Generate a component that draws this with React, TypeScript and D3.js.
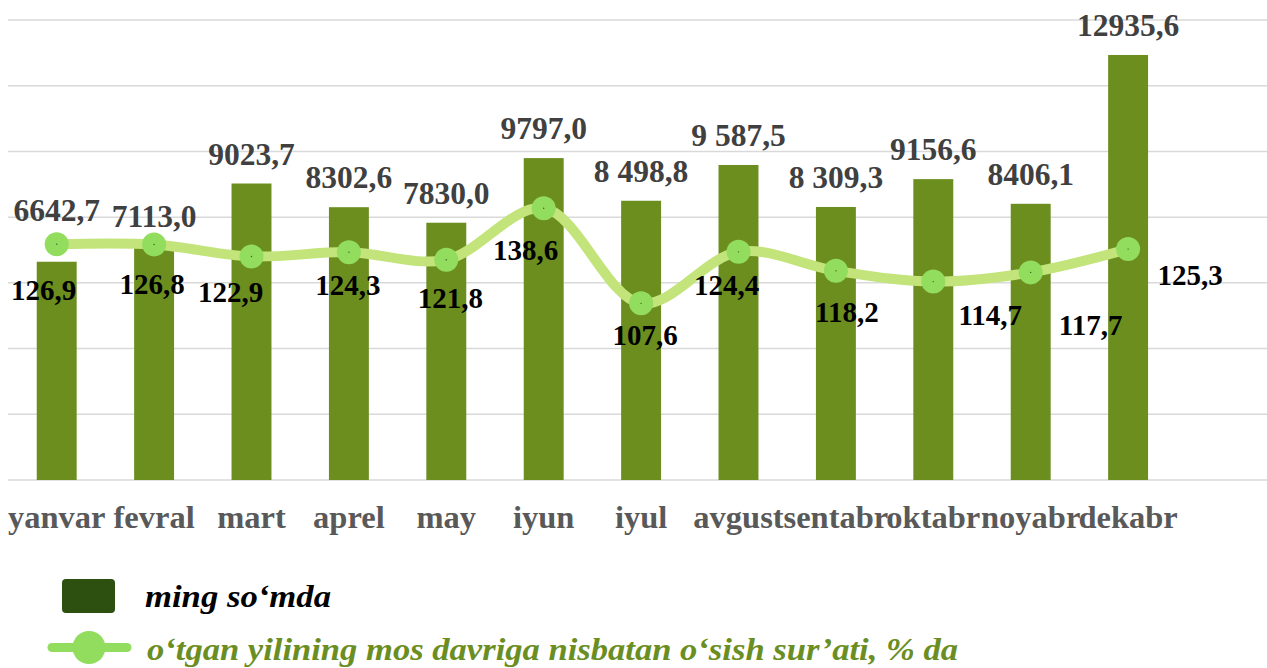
import React from "react";
import * as d3 from "d3";

const months = ["yanvar", "fevral", "mart", "aprel", "may", "iyun", "iyul", "avgust", "sentabr", "oktabr", "noyabr", "dekabr"];
const amountValues = [6642.7, 7113.0, 9023.7, 8302.6, 7830.0, 9797.0, 8498.8, 9587.5, 8309.3, 9156.6, 8406.1, 12935.6];
const amountLabels = ["6642,7", "7113,0", "9023,7", "8302,6", "7830,0", "9797,0", "8 498,8", "9 587,5", "8 309,3", "9156,6", "8406,1", "12935,6"];
const growthValues = [126.9, 126.8, 122.9, 124.3, 121.8, 138.6, 107.6, 124.4, 118.2, 114.7, 117.7, 125.3];
const growthLabels = ["126,9", "126,8", "122,9", "124,3", "121,8", "138,6", "107,6", "124,4", "118,2", "114,7", "117,7", "125,3"];
const gridTicks = [0, 2000, 4000, 6000, 8000, 10000, 12000, 14000];
const legendBar = "ming so‘mda";
const legendLine = "o‘tgan yilining mos davriga nisbatan o‘sish sur’ati, % da";

// layout nudges for manually placed labels (pixels)
const barLabelNudge = [-22, 0, 0, 0, 0, 0, 0, 0, 0, 0, 0, 0];
const lineLabelDx = [-13, -2, -21, -1, 4, -18, 4, -12, 11, 57, 60, 62];
const lineLabelDy = [56, 50, 46, 43, 48, 52, 42, 43, 51, 43, 63, 36];

const W = 1267;
const H = 668;
const FF = "Liberation Serif";

export default function App() {
  const left = 8;
  const step = 97.4;
  const x = d3
    .scaleBand<string>()
    .domain(months)
    .range([left, left + step * months.length])
    .paddingInner(0.59)
    .paddingOuter(0.295);
  const y = d3.scaleLinear().domain([0, 14000]).range([480, 20]);
  const y2 = d3.scaleLinear().domain([50, 200]).range([480, 20]);
  const cx = (m: string) => (x(m) as number) + x.bandwidth() / 2;

  const line = d3
    .line<number>()
    .x((_, i) => cx(months[i]))
    .y((d) => y2(d))
    .curve(d3.curveCatmullRom.alpha(0.5));

  return (
    <svg width={W} height={H} style={{ position: "absolute", left: 0, top: 0, background: "#fff" }}>
      <style>{`text { font-family: "Liberation Serif", "Times New Roman", serif; }`}</style>
      {gridTicks.map((t) => (
        <line key={t} x1={left} x2={W} y1={y(t)} y2={y(t)} stroke="#D9D9D9" strokeWidth={1.5} />
      ))}
      {months.map((m, i) => (
        <rect
          key={m}
          x={x(m)}
          y={y(amountValues[i])}
          width={x.bandwidth()}
          height={y(0) - y(amountValues[i])}
          fill="#6B8E1F"
        />
      ))}
      <path d={line(growthValues) || ""} fill="none" stroke="#C2E47A" strokeWidth={10} strokeLinecap="round" />
      {months.map((m, i) => (
        <g key={"pt" + m}>
          <circle cx={cx(m)} cy={y2(growthValues[i])} r={12} fill="#92DC5E" />
          <circle cx={cx(m)} cy={y2(growthValues[i])} r={0.7} fill="#3a5a20" />
        </g>
      ))}
      {months.map((m, i) => (
        <text
          key={"bl" + m}
          x={cx(m)}
          y={y(amountValues[i]) - 19 + barLabelNudge[i]}
          textAnchor="middle"
          fontSize={31.5}
          fontWeight="bold"
          fill="#404040"
          fontFamily={FF}
        >
          {amountLabels[i]}
        </text>
      ))}
      {months.map((m, i) => (
        <text
          key={"ll" + m}
          x={cx(m) + lineLabelDx[i]}
          y={y2(growthValues[i]) + lineLabelDy[i]}
          textAnchor="middle"
          fontSize={29}
          fontWeight="bold"
          fill="#000"
          fontFamily={FF}
        >
          {growthLabels[i]}
        </text>
      ))}
      {months.map((m) => (
        <text
          key={"cat" + m}
          x={cx(m)}
          y={528}
          textAnchor="middle"
          fontSize={32.5}
          fontWeight="bold"
          fill="#595959"
          fontFamily={FF}
        >
          {m}
        </text>
      ))}
      <rect x={62} y={579} width={53} height={34} rx={4} fill="#2D5011" />
      <text
        x={145}
        y={607}
        fontSize={30.5}
        fontWeight="bold"
        fontStyle="italic"
        fill="#000"
        fontFamily={FF}
        textLength={186}
        lengthAdjust="spacingAndGlyphs"
      >
        {legendBar}
      </text>
      <line x1={52} x2={127} y1={647.5} y2={647.5} stroke="#92DC5E" strokeWidth={9} strokeLinecap="round" />
      <circle cx={89} cy={647.5} r={16.5} fill="#92DC5E" />
      <text
        x={147}
        y={660}
        fontSize={30.5}
        fontWeight="bold"
        fontStyle="italic"
        fill="#6B8E23"
        fontFamily={FF}
        textLength={811}
        lengthAdjust="spacingAndGlyphs"
      >
        {legendLine}
      </text>
    </svg>
  );
}
